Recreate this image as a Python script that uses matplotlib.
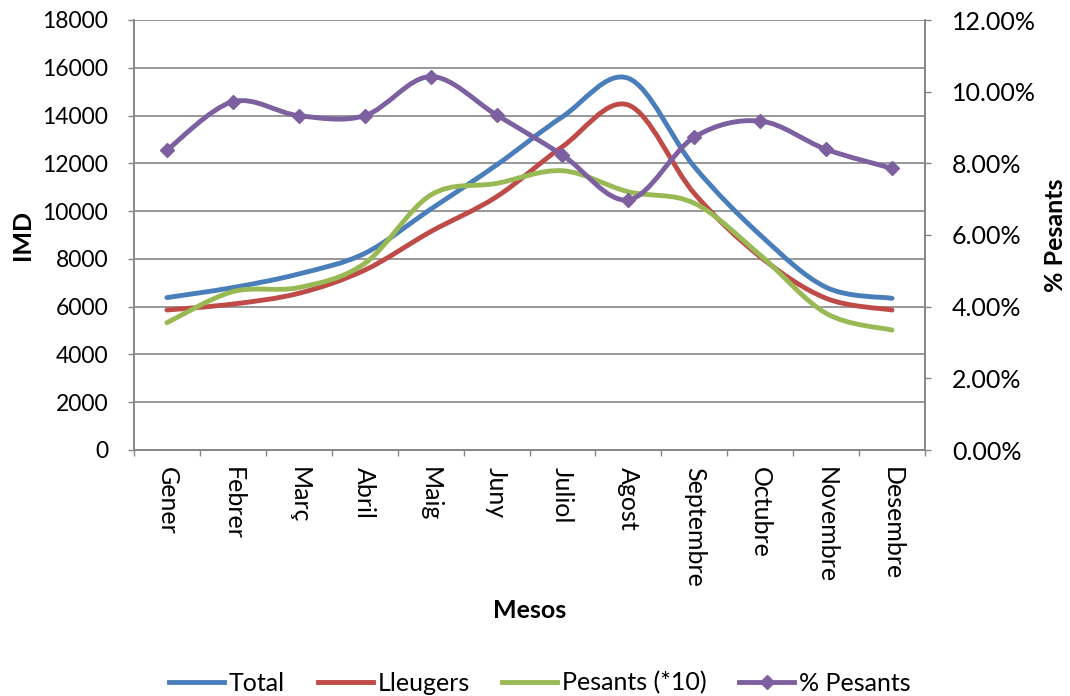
import numpy as np
import matplotlib
matplotlib.use("Agg")
import matplotlib.pyplot as plt
from matplotlib.path import Path
from matplotlib.patches import PathPatch
from matplotlib.lines import Line2D
from matplotlib.ticker import FuncFormatter, FixedLocator

months = ["Gener", "Febrer", "Març", "Abril", "Maig", "Juny", "Juliol",
          "Agost", "Septembre", "Octubre", "Novembre", "Desembre"]
total = [6380, 6800, 7370, 8230, 10080, 11930, 13950, 15560, 11860, 9000, 6810, 6350]
lleugers = [5860, 6110, 6560, 7530, 9140, 10600, 12700, 14440, 10740, 8090, 6350, 5860]
pesants10 = [5330, 6630, 6800, 7810, 10670, 11160, 11690, 10810, 10330, 8160, 5720, 5020]
pct_pesants = [8.37, 9.72, 9.33, 9.33, 10.42, 9.35, 8.23, 6.98, 8.73, 9.18, 8.39, 7.86]

C_BLUE = "#4A7EBB"
C_RED = "#BE4B48"
C_GREEN = "#98B954"
C_PURPLE = "#7D60A0"
C_GRID = "#868686"

plt.rcParams['font.family'] = ['Lato', 'DejaVu Sans']

fig = plt.figure(figsize=(10.70, 6.96), dpi=100)
ax = fig.add_axes([134/1070, 1-450/696, (925-134)/1070, (450-20)/696])
ax2 = ax.twinx()

x = np.arange(len(months))


def smooth_path(xs, ys):
    xs = np.asarray(xs, float)
    ys = np.asarray(ys, float)
    verts = [(xs[0], ys[0])]
    codes = [Path.MOVETO]
    n = len(xs)
    for i in range(n - 1):
        i0 = max(i - 1, 0)
        i3 = min(i + 2, n - 1)
        c1 = (xs[i] + (xs[i+1] - xs[i0]) / 6, ys[i] + (ys[i+1] - ys[i0]) / 6)
        c2 = (xs[i+1] - (xs[i3] - xs[i]) / 6, ys[i+1] - (ys[i3] - ys[i]) / 6)
        verts += [c1, c2, (xs[i+1], ys[i+1])]
        codes += [Path.CURVE4] * 3
    return Path(verts, codes)


LW = 3.5
for ys, c in [(total, C_BLUE), (lleugers, C_RED), (pesants10, C_GREEN)]:
    ax.add_patch(PathPatch(smooth_path(x, ys), facecolor="none", edgecolor=c,
                           lw=LW, capstyle="round", joinstyle="round", zorder=3))

ax2.add_patch(PathPatch(smooth_path(x, pct_pesants), facecolor="none", edgecolor=C_PURPLE,
                        lw=LW, capstyle="round", joinstyle="round", zorder=3))
ax2.plot(x, pct_pesants, linestyle="none", marker="D", markersize=7,
         color=C_PURPLE, zorder=4)

ax.set_xlim(-0.5, len(months) - 0.5)
ax.set_ylim(0, 18000)
ax2.set_ylim(0, 12)

ax.set_yticks(np.arange(0, 18001, 2000))
ax2.set_yticks(np.arange(0, 12.01, 2))
ax2.yaxis.set_major_formatter(FuncFormatter(lambda v, p: f"{v:.2f}%"))

ax.set_xticks(x)
ax.set_xticklabels(months, rotation=-90, va="top", ha="center")
ax.xaxis.set_minor_locator(FixedLocator(np.arange(-0.5, len(months), 1)))
ax.tick_params(axis="x", which="major", length=0, pad=12, labelsize=18)
ax.tick_params(axis="x", which="minor", length=4.5, color=C_GRID, width=1)
ax.tick_params(axis="y", length=4.5, color=C_GRID, width=1, labelsize=16.5, pad=14)
ax2.tick_params(axis="y", length=4.5, color=C_GRID, width=1, labelsize=18, pad=15)

ax.grid(axis="y", color=C_GRID, lw=1.2, zorder=0)
ax.set_axisbelow(True)

for a in (ax, ax2):
    a.spines["top"].set_visible(False)
    for s in ("left", "right", "bottom"):
        a.spines[s].set_color(C_GRID)
        a.spines[s].set_linewidth(1.2)

ax.set_ylabel("IMD", fontsize=18, fontweight="bold")
ax.yaxis.set_label_coords(-(134-22)/791, 0.5)
ax2.set_ylabel("% Pesants", fontsize=18, fontweight="bold", rotation=90)
ax2.yaxis.set_label_coords(1 + (1056-925)/791, 0.5)
ax.set_xlabel("Mesos", fontsize=18, fontweight="bold")
ax.xaxis.set_label_coords((530-134)/791, -(610-450)/430)
ax.xaxis.label.set_va("center")
ax.yaxis.label.set_va("center")
ax2.yaxis.label.set_va("center")

handles = [Line2D([], [], color=C_BLUE, lw=LW),
           Line2D([], [], color=C_RED, lw=LW),
           Line2D([], [], color=C_GREEN, lw=LW),
           Line2D([], [], color=C_PURPLE, lw=LW, marker="D", markersize=7)]
labels = ["Total", "Lleugers", "Pesants (*10)", "% Pesants"]
fig.legend(handles, labels, loc="center", bbox_to_anchor=(540/1070, 1-683/696),
           ncol=4, frameon=False, fontsize=18, handlelength=2.2,
           handletextpad=0.2, columnspacing=1.3, borderpad=0, borderaxespad=0)

fig.savefig("out.png", dpi=100)
